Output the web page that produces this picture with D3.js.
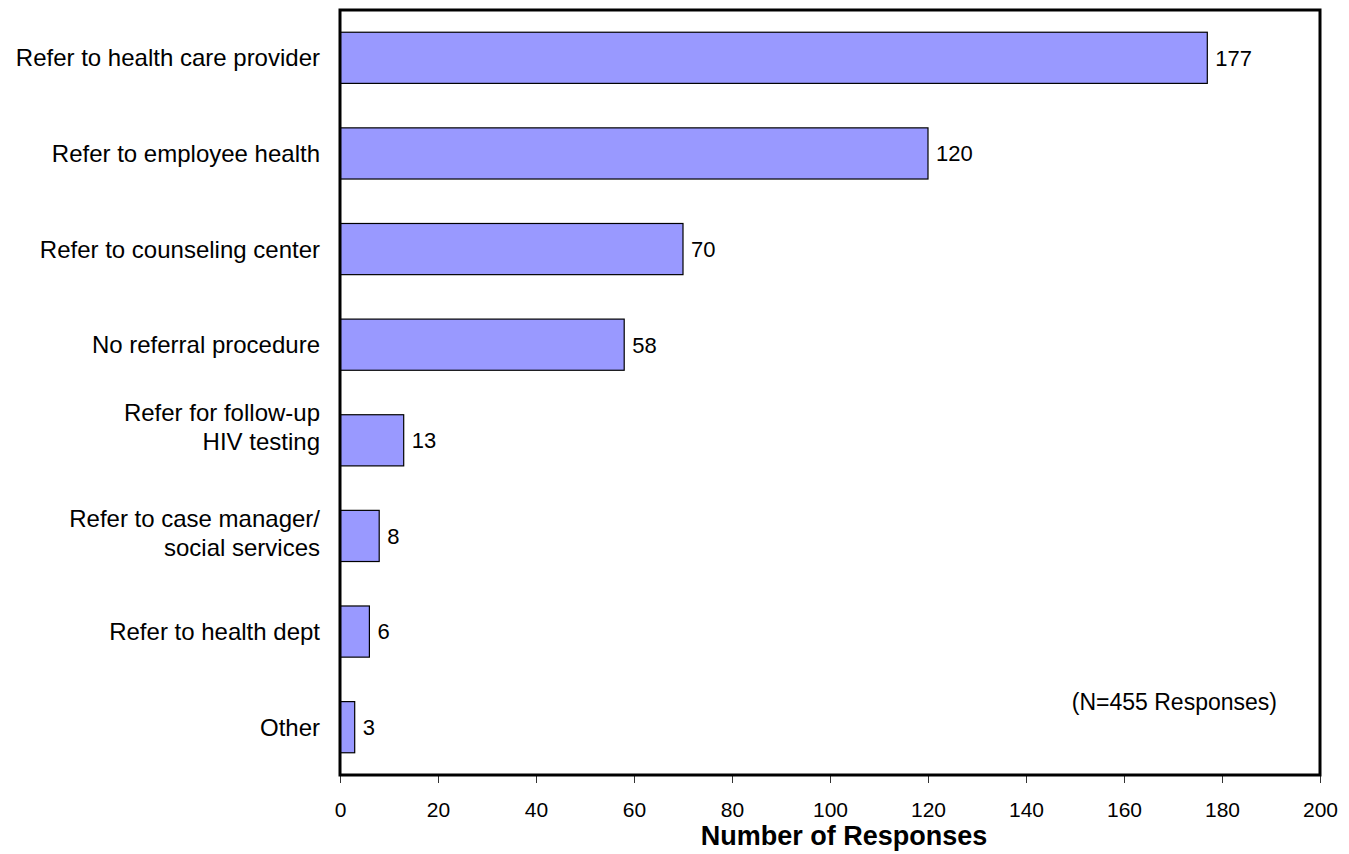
<!DOCTYPE html>
<html><head><meta charset="utf-8">
<script src="https://cdn.jsdelivr.net/npm/d3@7"></script>
<style>body{margin:0;background:#fff}svg{display:block}text{font-family:"Liberation Sans",Arial,sans-serif;fill:#000}</style>
</head><body>
<script>
const categories = [
  ["Refer to health care provider"],
  ["Refer to employee health"],
  ["Refer to counseling center"],
  ["No referral procedure"],
  ["Refer for follow-up", "HIV testing"],
  ["Refer to case manager/", "social services"],
  ["Refer to health dept"],
  ["Other"]
];
const values = [177, 120, 70, 58, 13, 8, 6, 3];
const xTicks = [0, 20, 40, 60, 80, 100, 120, 140, 160, 180, 200];
const xTitle = "Number of Responses";
const note = "(N=455 Responses)";

const W = 1349, H = 854;
const m = {left: 340, right: 1320, top: 10, bottom: 775};
const svg = d3.select("body").append("svg").attr("width", W).attr("height", H);

const x = d3.scaleLinear().domain([0, 200]).range([m.left, m.right]);
const keys = categories.map((c, i) => i);
const y = d3.scaleBand().domain(keys).range([m.top, m.bottom]).paddingInner(0.465).paddingOuter(0.2325);

// bars
svg.selectAll("rect.bar").data(values).join("rect")
  .attr("class", "bar")
  .attr("x", x(0))
  .attr("y", (d, i) => y(i))
  .attr("width", d => x(d) - x(0))
  .attr("height", y.bandwidth())
  .attr("fill", "#9999FF")
  .attr("stroke", "#000")
  .attr("stroke-width", 1.2);

// value labels
svg.selectAll("text.val").data(values).join("text")
  .attr("class", "val")
  .attr("x", d => x(d) + 8)
  .attr("y", (d, i) => y(i) + y.bandwidth() / 2)
  .attr("dy", "0.36em")
  .attr("font-size", 22)
  .text(d => d);

// category labels (multi-line labels are nudged as in the original layout)
const lineH = 29.5;
const cat = svg.selectAll("text.cat").data(categories).join("text")
  .attr("class", "cat")
  .attr("text-anchor", "end")
  .attr("font-size", 24)
  .attr("y", (d, i) => y(i) + y.bandwidth() / 2);
cat.each(function(lines, i) {
  const t = d3.select(this);
  let first = 8.5;
  if (lines.length > 1) first = (i === 4) ? -19.5 : -9;
  lines.forEach((l, j) => {
    t.append("tspan").attr("x", 320)
      .attr("dy", j === 0 ? first + "px" : lineH + "px")
      .text(l);
  });
});

// x axis
const ax = svg.append("g").attr("transform", `translate(0,${m.bottom})`)
  .call(d3.axisBottom(x).tickValues(xTicks).tickSize(8).tickPadding(19).tickFormat(d3.format("d")));
ax.select(".domain").remove();
ax.selectAll(".tick line").attr("stroke", "#333").attr("stroke-width", 1);
ax.selectAll(".tick text").attr("font-size", 21).attr("font-family", '"Liberation Sans",Arial,sans-serif').attr("fill", "#000");

// frame
svg.append("rect")
  .attr("x", m.left).attr("y", m.top)
  .attr("width", m.right - m.left).attr("height", m.bottom - m.top)
  .attr("fill", "none").attr("stroke", "#000").attr("stroke-width", 3);

// axis title
svg.append("text").attr("x", 844).attr("y", 845).attr("text-anchor", "middle")
  .attr("font-size", 27).attr("font-weight", "bold").text(xTitle);

// note
svg.append("text").attr("x", 1277).attr("y", 710).attr("text-anchor", "end")
  .attr("font-size", 23).text(note);
</script>
</body></html>
